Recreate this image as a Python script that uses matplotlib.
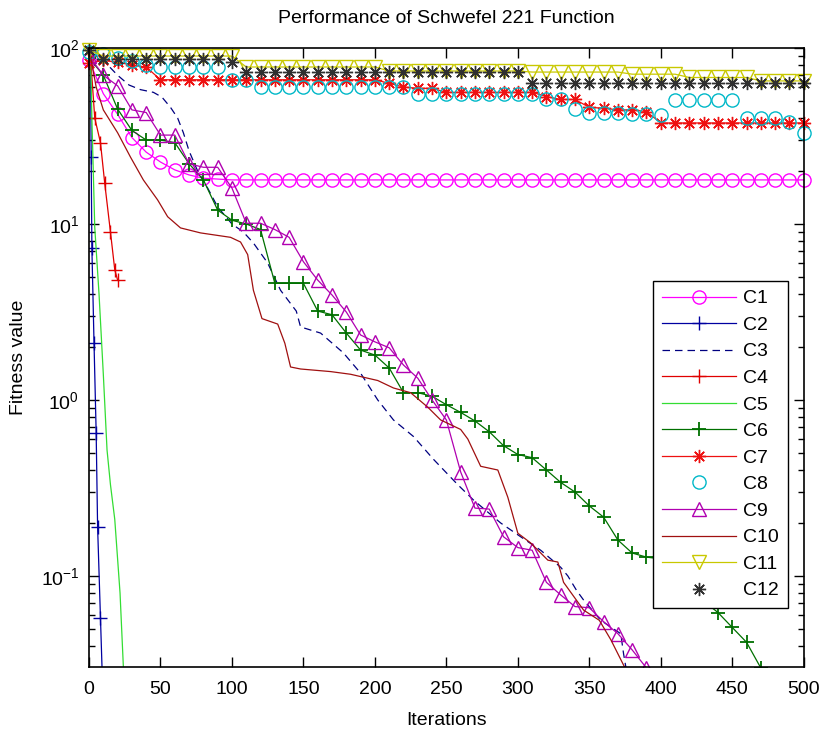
import matplotlib
matplotlib.use("Agg")
import matplotlib.pyplot as plt

plt.rcParams['font.family'] = ['Liberation Sans', 'DejaVu Sans']

# iterations where the marker series are sampled
iters = list(range(0, 501, 10))

c1 = [85, 55, 42, 31, 25.6, 22.5, 20.3, 19, 18.2, 18] + [17.8] * 41

c2_x = [1, 1.5, 2, 3.5, 5, 6, 8, 10.5]
c2_y = [95, 24, 7.3, 2.1, 0.65, 0.19, 0.058, 0.013]

c3_x = [1, 10, 20, 28, 36, 45, 51, 57, 62, 66, 70, 76, 83, 90, 100, 108, 115, 125,
        134, 145, 148, 162, 178, 190, 202, 213, 227, 241, 258, 269, 288, 302, 316,
        330, 335, 341, 346, 358, 372, 374, 377]
c3_y = [95, 85, 70, 61.6, 58, 56, 52.6, 46, 40, 33, 26, 20, 16, 12.5, 10, 9, 7.8, 6,
        4.2, 3.2, 2.6, 2.4, 1.85, 1.42, 1.0, 0.77, 0.62, 0.46, 0.33, 0.27, 0.2, 0.167,
        0.14, 0.112, 0.1, 0.083, 0.073, 0.056, 0.047, 0.036, 0.026]

c4_x = [1, 4, 8, 11, 15, 18, 20]
c4_y = [90, 40, 29, 17, 9, 5.5, 4.8]

c5_x = [1, 2, 4, 7, 10, 12.6, 15, 18, 21.7, 24.5]
c5_y = [92, 40, 9.6, 4.0, 1.4, 0.52, 0.33, 0.21, 0.08, 0.025]

c6 = [88, 70, 45, 34, 30, 30, 29, 22, 17.8, 12, 10.5, 10, 9.3, 4.6, 4.6, 4.6, 3.2,
      3.05, 2.4, 1.92, 1.8, 1.52, 1.1, 1.1, 1.05, 0.94, 0.85, 0.76, 0.66, 0.55, 0.49,
      0.47, 0.40, 0.34, 0.30, 0.25, 0.216, 0.16, 0.135, 0.128, 0.125, 0.1, 0.085,
      0.072, 0.062, 0.051, 0.042, 0.03, 0.022]

c7 = ([82, 85, 83, 80, 78] + [66] * 16 + [63, 60, 59, 59] + [56] * 7
      + [53, 51, 51, 46, 45.5, 44.5, 44.5, 43.5] + [37.5] * 11)

c8 = ([95, 92, 88, 84, 80] + [78] * 5 + [66, 66] + [60] * 11 + [55] * 9
      + [51, 51, 45, 42.5, 42.5, 42.5, 42, 42, 41.6] + [50.7] * 5 + [40, 40, 40, 38, 33])

c9 = [90, 70, 61, 44.5, 43, 32, 32, 22, 21, 21, 16, 10.1, 10.1, 9.3, 8.4, 6.1, 4.8,
      3.95, 3.16, 2.34, 2.14, 1.98, 1.58, 1.33, 1.0, 0.77, 0.39, 0.243, 0.24, 0.167,
      0.145, 0.14, 0.092, 0.078, 0.067, 0.066, 0.055, 0.047, 0.038, 0.030, 0.024]

c10_x = [1, 5, 10, 20, 29, 38, 48, 55, 64, 78, 99, 106, 111, 115, 121, 132, 137, 141,
         148, 169, 183, 202, 213, 225, 237, 246, 260, 265, 274, 286, 293, 300, 309,
         321, 328, 332, 346, 357, 365, 375, 380]
c10_y = [90, 60, 44.5, 33, 24, 17.8, 13.7, 11, 9.5, 8.9, 8.4, 7.9, 6.7, 4.2, 2.9, 2.7,
         2.1, 1.54, 1.5, 1.45, 1.4, 1.29, 1.17, 1.1, 0.91, 0.77, 0.68, 0.6, 0.42, 0.40,
         0.28, 0.175, 0.154, 0.123, 0.12, 0.092, 0.064, 0.056, 0.0435, 0.03, 0.025]

c11 = ([97] + [90] * 10 + [78] * 10 + [74] * 10 + [73] * 7 + [71] * 4 + [68] * 5
       + [65] * 4)

c12 = [97] + [87] * 9 + [83] + [73] * 20 + [63] * 20

fig = plt.figure(figsize=(8.32, 7.34), dpi=100)
ax = fig.add_axes([0.107, 0.0913, 0.859, 0.8433])

ms = 9.5
lw = 0.9
ax.plot(iters, c1, color='#ff00ff', marker='o', mfc='none', ms=ms, lw=lw, label='C1', clip_on=False)
ax.plot(c2_x, c2_y, color='#0000a0', marker='+', ms=ms, lw=lw, label='C2')
ax.plot(c3_x, c3_y, color='#000080', ls=(0, (6, 4)), lw=lw, label='C3')
ax.plot(c4_x, c4_y, color='#e00000', marker='+', ms=ms, lw=lw, label='C4')
ax.plot(c5_x, c5_y, color='#33dd33', lw=lw, label='C5')
ax.plot(iters[:len(c6)], c6, color='#007000', marker='+', ms=ms, mew=1.3, lw=lw, label='C6')
ax.plot(iters, c7, color='#ee1111', marker=(8, 2, 0), ms=ms, lw=lw, label='C7', clip_on=False)
ax.plot(iters, c8, color='#00b8c8', marker='o', mfc='none', ms=ms, ls='none', label='C8', clip_on=False)
ax.plot(iters[:len(c9)], c9, color='#b000b0', marker='^', mfc='none', ms=ms, lw=lw, label='C9')
ax.plot(c10_x, c10_y, color='#a01010', lw=lw, label='C10')
ax.plot(iters, c11, color='#c8c800', marker='v', mfc='none', ms=ms, lw=lw, label='C11', clip_on=False)
ax.plot(iters, c12, color='#303030', marker=(8, 2, 0), ms=ms, ls='none', label='C12', clip_on=False)

ax.set_yscale('log')
ax.set_xlim(0, 500)
ax.set_ylim(0.0304, 100)
ax.set_xticks(range(0, 501, 50))
ax.tick_params(which='both', direction='in', top=True, right=True, labelsize=14)
ax.tick_params(which='major', length=7, width=1)
ax.tick_params(which='minor', length=4, width=1)
ax.tick_params(axis='x', which='minor', top=False, bottom=False)
ax.tick_params(axis='x', pad=10)
ax.tick_params(axis='y', pad=7)
for s in ax.spines.values():
    s.set_linewidth(1.2)

ax.set_title('Performance of Schwefel 221 Function', fontsize=14, pad=18)
ax.set_xlabel('Iterations', fontsize=14, labelpad=10)
ax.set_ylabel('Fitness value', fontsize=14, labelpad=10)

leg = ax.legend(loc='lower right', bbox_to_anchor=(0.978, 0.095), borderaxespad=0,
                fontsize=14, handlelength=3.8, handletextpad=0.4, labelspacing=0.46,
                fancybox=False, framealpha=1, edgecolor='black', borderpad=0.45)
leg.get_frame().set_linewidth(1.0)

fig.savefig('out.png', dpi=100)
